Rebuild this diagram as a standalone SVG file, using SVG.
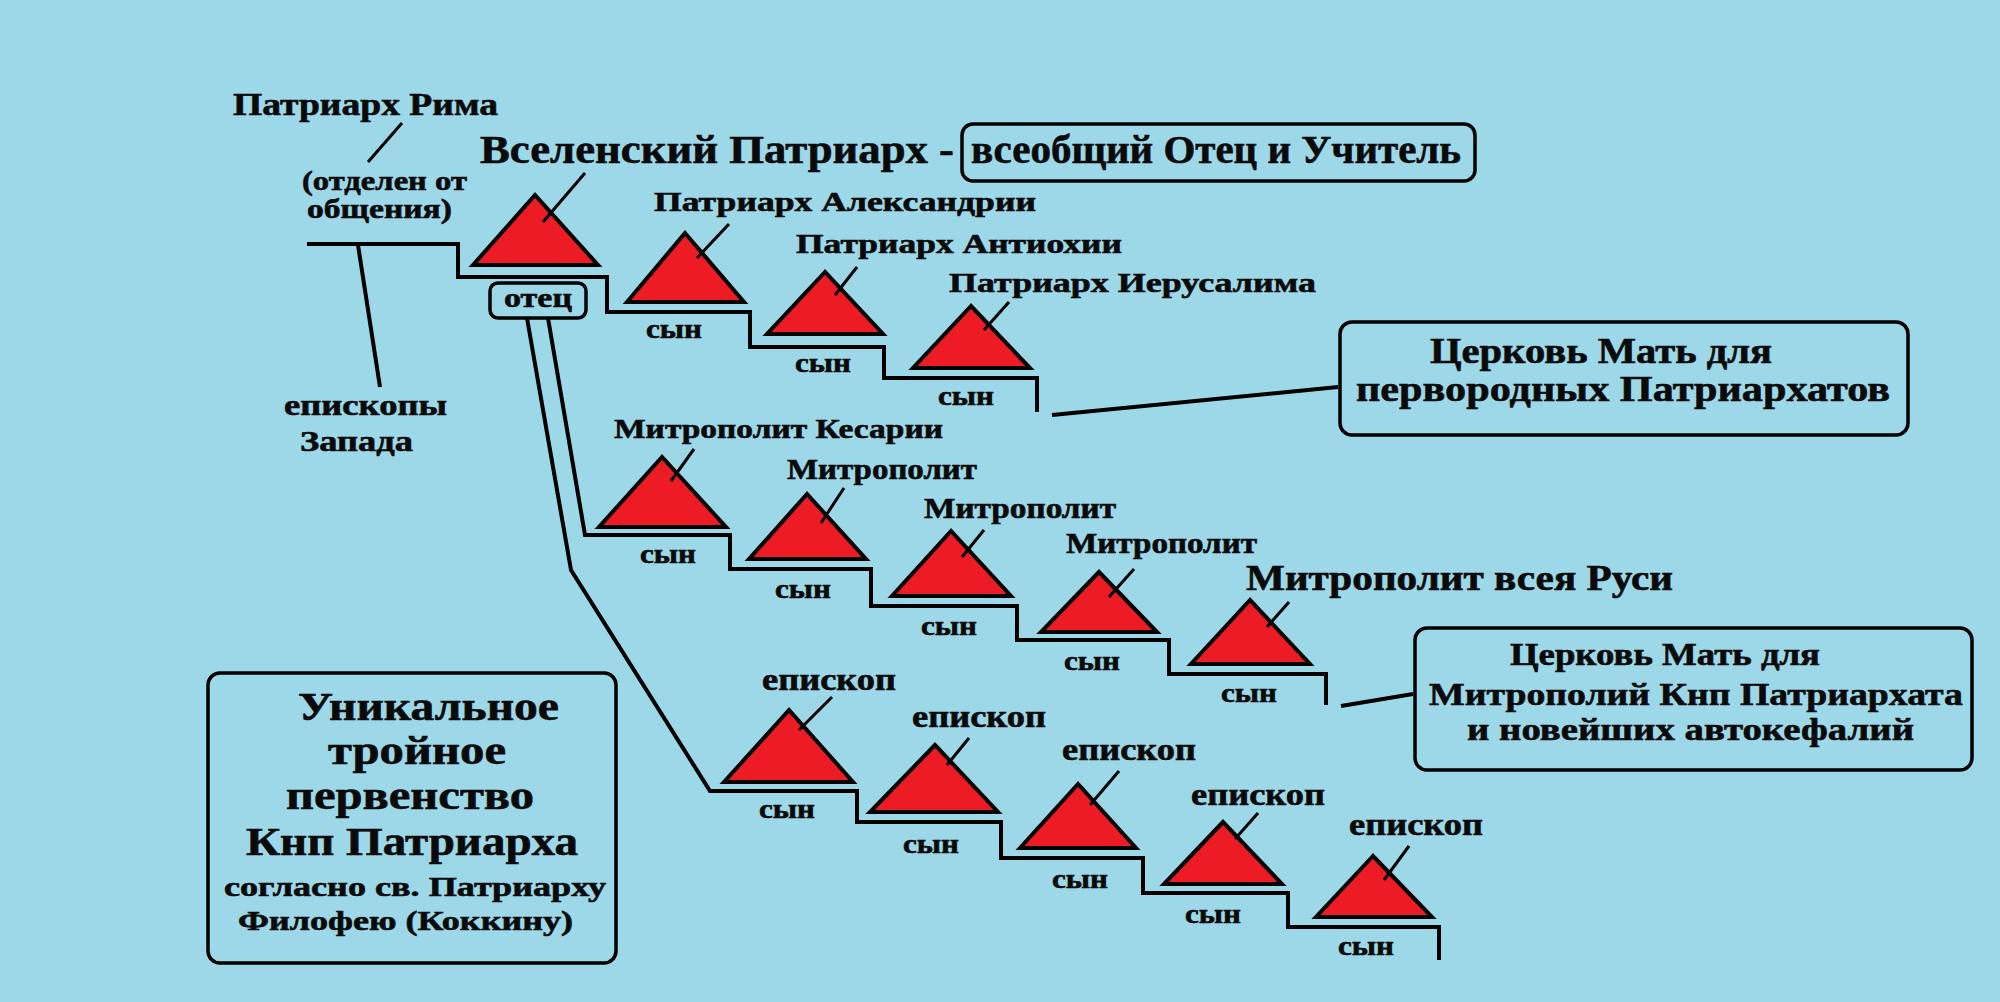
<svg xmlns="http://www.w3.org/2000/svg" width="2000" height="1002" viewBox="0 0 2000 1002">
<defs>
<style>
text{font-family:"Liberation Serif","Times New Roman",serif;font-weight:bold;fill:#0a0a0a;stroke:#0a0a0a;stroke-width:0.6;}
.tri{fill:#ED1C24;stroke:#000;stroke-width:4;stroke-linejoin:miter;}
.ptr{stroke:#000;stroke-width:3;fill:none;}
.stair{stroke:#000;stroke-width:4;fill:none;stroke-linejoin:miter;}
.box{fill:none;stroke:#000;stroke-width:3.5;}
.son{font-size:27px;}
.pat{font-size:28px;}
.met{font-size:29px;}
.ep{font-size:31px;}
</style>
</defs>
<rect x="0" y="0" width="2000" height="1002" fill="#9DD8E9"/>

<g id="connectors">
<path class="stair" d="M307 244 H458 V277 H607 V312 H750 V347 H884 V378 H1037 V412"/>
<path class="stair" d="M358 245 L380 387"/>
<path class="stair" d="M548 318 L585 535 H730 V569 H871 V606 H1017 V640 H1169 V674 H1326 V705"/>
<path class="stair" d="M527 318 L571 570 L710 791 H857 V822 H1001 V858 H1143 V893 H1288 V927 H1439 V960"/>
<path class="stair" d="M1052 415 L1338 387"/>
<path class="stair" d="M1341 706 L1413 694"/>
<path class="ptr" d="M402 123 L368 162"/>
</g>

<g id="rome">
<text x="233" y="115" font-size="31" textLength="265" lengthAdjust="spacingAndGlyphs">Патриарх Рима</text>
<text x="302" y="190" font-size="28" textLength="165" lengthAdjust="spacingAndGlyphs">(отделен от</text>
<text x="307" y="218" font-size="28" textLength="145" lengthAdjust="spacingAndGlyphs">общения)</text>
</g>

<g id="west-bishops">
<text x="284" y="415" font-size="29" textLength="163" lengthAdjust="spacingAndGlyphs">епископы</text>
<text x="300" y="451" font-size="29" textLength="113" lengthAdjust="spacingAndGlyphs">Запада</text>
</g>

<g id="ecumenical">
<polygon class="tri" points="535,195 473,265 598,265"/>
<path class="ptr" d="M585 173 L543 222"/>
<text x="480" y="163" font-size="40" textLength="474" lengthAdjust="spacingAndGlyphs">Вселенский Патриарх -</text>
</g>

<g id="father-teacher">
<rect class="box" x="962" y="124" width="513" height="57" rx="11"/>
<text x="971" y="163" font-size="40" textLength="490" lengthAdjust="spacingAndGlyphs">всеобщий Отец и Учитель</text>
</g>

<g id="father">
<rect class="box" x="490" y="283" width="96" height="35" rx="8"/>
<text x="504" y="307" font-size="28" textLength="68" lengthAdjust="spacingAndGlyphs">отец</text>
</g>

<g id="alexandria">
<polygon class="tri" points="685,233 627,302 744,302"/>
<path class="ptr" d="M729 224 L697 258"/>
<text class="pat" x="654" y="211" textLength="382" lengthAdjust="spacingAndGlyphs">Патриарх Александрии</text>
<text class="son" x="646" y="338" textLength="56" lengthAdjust="spacingAndGlyphs">сын</text>
</g>

<g id="antioch">
<polygon class="tri" points="825,272 767,334 883,334"/>
<path class="ptr" d="M857 267 L835 295"/>
<text class="pat" x="796" y="253" textLength="326" lengthAdjust="spacingAndGlyphs">Патриарх Антиохии</text>
<text class="son" x="795" y="372" textLength="56" lengthAdjust="spacingAndGlyphs">сын</text>
</g>

<g id="jerusalem">
<polygon class="tri" points="971,306 913,368 1030,368"/>
<path class="ptr" d="M1009 302 L984 330"/>
<text class="pat" x="949" y="292" textLength="367" lengthAdjust="spacingAndGlyphs">Патриарх Иерусалима</text>
<text class="son" x="938" y="405" textLength="56" lengthAdjust="spacingAndGlyphs">сын</text>
</g>

<g id="mother-patriarchates">
<rect class="box" x="1340" y="322" width="568" height="113" rx="12"/>
<text x="1430" y="363" font-size="36" textLength="342" lengthAdjust="spacingAndGlyphs">Церковь Мать для</text>
<text x="1356" y="401" font-size="36" textLength="534" lengthAdjust="spacingAndGlyphs">первородных Патриархатов</text>
</g>

<g id="met-caesarea">
<polygon class="tri" points="662,457 599,527 726,527"/>
<path class="ptr" d="M694 449 L671 481"/>
<text class="pat" x="614" y="438" textLength="329" lengthAdjust="spacingAndGlyphs">Митрополит Кесарии</text>
<text class="son" x="640" y="563" textLength="56" lengthAdjust="spacingAndGlyphs">сын</text>
</g>

<g id="met-2">
<polygon class="tri" points="807,494 749,559 866,559"/>
<path class="ptr" d="M844 488 L821 523"/>
<text class="met" x="787" y="479" textLength="190" lengthAdjust="spacingAndGlyphs">Митрополит</text>
<text class="son" x="775" y="598" textLength="56" lengthAdjust="spacingAndGlyphs">сын</text>
</g>

<g id="met-3">
<polygon class="tri" points="951,531 892,596 1011,596"/>
<path class="ptr" d="M984 530 L962 557"/>
<text class="met" x="924" y="518" textLength="192" lengthAdjust="spacingAndGlyphs">Митрополит</text>
<text class="son" x="921" y="635" textLength="56" lengthAdjust="spacingAndGlyphs">сын</text>
</g>

<g id="met-4">
<polygon class="tri" points="1099,572 1041,632 1157,632"/>
<path class="ptr" d="M1134 569 L1109 597"/>
<text class="met" x="1066" y="553" textLength="191" lengthAdjust="spacingAndGlyphs">Митрополит</text>
<text class="son" x="1064" y="670" textLength="56" lengthAdjust="spacingAndGlyphs">сын</text>
</g>

<g id="met-rus">
<polygon class="tri" points="1250,600 1191,664 1310,664"/>
<path class="ptr" d="M1289 602 L1267 627"/>
<text x="1246" y="590" font-size="35" textLength="427" lengthAdjust="spacingAndGlyphs">Митрополит всея Руси</text>
<text class="son" x="1221" y="702" textLength="56" lengthAdjust="spacingAndGlyphs">сын</text>
</g>

<g id="mother-metropolies">
<rect class="box" x="1415" y="628" width="557" height="142" rx="12"/>
<text x="1510" y="665" font-size="32" textLength="310" lengthAdjust="spacingAndGlyphs">Церковь Мать для</text>
<text x="1429" y="705" font-size="32" textLength="534" lengthAdjust="spacingAndGlyphs">Митрополий Кнп Патриархата</text>
<text x="1467" y="740" font-size="32" textLength="447" lengthAdjust="spacingAndGlyphs">и новейших автокефалий</text>
</g>

<g id="bishop-1">
<polygon class="tri" points="789,710 724,782 853,782"/>
<path class="ptr" d="M832 697 L799 730"/>
<text class="ep" x="762" y="690" textLength="134" lengthAdjust="spacingAndGlyphs">епископ</text>
<text class="son" x="759" y="818" textLength="56" lengthAdjust="spacingAndGlyphs">сын</text>
</g>

<g id="bishop-2">
<polygon class="tri" points="935,745 870,812 998,812"/>
<path class="ptr" d="M969 738 L947 765"/>
<text class="ep" x="912" y="727" textLength="134" lengthAdjust="spacingAndGlyphs">епископ</text>
<text class="son" x="903" y="853" textLength="56" lengthAdjust="spacingAndGlyphs">сын</text>
</g>

<g id="bishop-3">
<polygon class="tri" points="1078,784 1020,848 1136,848"/>
<path class="ptr" d="M1119 771 L1090 805"/>
<text class="ep" x="1062" y="760" textLength="134" lengthAdjust="spacingAndGlyphs">епископ</text>
<text class="son" x="1052" y="888" textLength="56" lengthAdjust="spacingAndGlyphs">сын</text>
</g>

<g id="bishop-4">
<polygon class="tri" points="1223,822 1164,884 1282,884"/>
<path class="ptr" d="M1258 813 L1235 839"/>
<text class="ep" x="1191" y="805" textLength="134" lengthAdjust="spacingAndGlyphs">епископ</text>
<text class="son" x="1185" y="923" textLength="56" lengthAdjust="spacingAndGlyphs">сын</text>
</g>

<g id="bishop-5">
<polygon class="tri" points="1373,856 1316,917 1432,917"/>
<path class="ptr" d="M1409 846 L1384 880"/>
<text class="ep" x="1349" y="835" textLength="134" lengthAdjust="spacingAndGlyphs">епископ</text>
<text class="son" x="1338" y="955" textLength="56" lengthAdjust="spacingAndGlyphs">сын</text>
</g>

<g id="primacy">
<rect class="box" x="208" y="673" width="408" height="290" rx="12"/>
<text x="298" y="720" font-size="40" textLength="261" lengthAdjust="spacingAndGlyphs">Уникальное</text>
<text x="328" y="764" font-size="40" textLength="178" lengthAdjust="spacingAndGlyphs">тройное</text>
<text x="286" y="809" font-size="40" textLength="248" lengthAdjust="spacingAndGlyphs">первенство</text>
<text x="246" y="855" font-size="40" textLength="332" lengthAdjust="spacingAndGlyphs">Кнп Патриарха</text>
<text x="224" y="896" font-size="28" textLength="382" lengthAdjust="spacingAndGlyphs">согласно св. Патриарху</text>
<text x="238" y="930" font-size="28" textLength="335" lengthAdjust="spacingAndGlyphs">Филофею (Коккину)</text>
</g>
</svg>
